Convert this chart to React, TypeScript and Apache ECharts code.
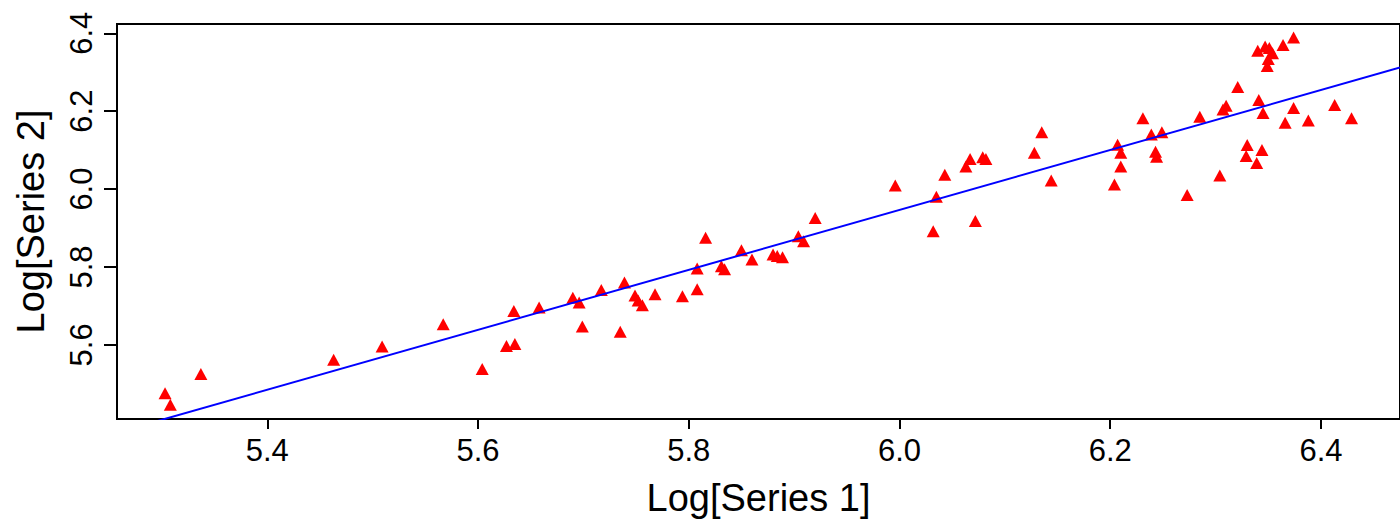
import React, { useEffect, useRef } from "react";
import * as echarts from "echarts";

// Log[Series 1] values (x)
const seriesX: number[] = [
  5.303, 5.308, 5.337, 5.463, 5.509, 5.567, 5.604, 5.627, 5.635, 5.634,
  5.658, 5.690, 5.696, 5.699, 5.717, 5.739, 5.735, 5.749, 5.752, 5.756,
  5.768, 5.794, 5.808, 5.808, 5.816, 5.831, 5.834, 5.850, 5.860, 5.880,
  5.884, 5.889, 5.904, 5.909, 5.920, 5.996, 6.032, 6.035, 6.043, 6.063,
  6.067, 6.072, 6.079, 6.082, 6.128, 6.135, 6.144, 6.204, 6.207, 6.210,
  6.210, 6.231, 6.239, 6.249, 6.243, 6.244, 6.273, 6.285, 6.304, 6.307,
  6.310, 6.321, 6.330, 6.329, 6.344, 6.339, 6.341, 6.345, 6.340, 6.347,
  6.351, 6.354, 6.350, 6.349, 6.364, 6.374, 6.366, 6.374, 6.388, 6.413,
  6.429,
];
// Log[Series 2] values (y)
const seriesY: number[] = [
  5.476, 5.446, 5.525, 5.562, 5.596, 5.653, 5.538, 5.597, 5.602, 5.687,
  5.696, 5.721, 5.709, 5.647, 5.741, 5.760, 5.634, 5.727, 5.714, 5.702,
  5.730, 5.725, 5.743, 5.796, 5.875, 5.802, 5.794, 5.843, 5.819, 5.832,
  5.828, 5.825, 5.879, 5.866, 5.926, 6.009, 5.892, 5.980, 6.037, 6.058,
  6.077, 5.918, 6.082, 6.077, 6.093, 6.146, 6.022, 6.012, 6.114, 6.093,
  6.058, 6.182, 6.140, 6.146, 6.096, 6.083, 5.985, 6.186, 6.035, 6.204,
  6.214, 6.262, 6.113, 6.085, 6.100, 6.067, 6.229, 6.195, 6.355, 6.366,
  6.362, 6.349, 6.334, 6.316, 6.370, 6.389, 6.170, 6.208, 6.176, 6.216,
  6.182,
];
// fitted line end points
const fitX: number[] = [5.2574, 6.475];
const fitY: number[] = [5.375, 6.312];

const xTicks: number[] = [5.4, 5.6, 5.8, 6.0, 6.2, 6.4];
const yTicks: number[] = [5.6, 5.8, 6.0, 6.2, 6.4];

const xRange: number[] = [5.2574, 6.475];
const yRange: number[] = [5.4097, 6.4238];

const FONT = "'Liberation Sans', Arial, sans-serif";

export default function App() {
  const ref = useRef<HTMLDivElement>(null);
  useEffect(() => {
    if (!ref.current) return;
    const chart = echarts.init(ref.current, undefined, { renderer: "svg" });
    const points = seriesX.map((x, i) => [x, seriesY[i]]);
    const fit = fitX.map((x, i) => [x, fitY[i]]);
    chart.setOption({
      animation: false,
      backgroundColor: "#ffffff",
      grid: {
        left: 117,
        top: 24,
        right: -12,
        bottom: 102,
        show: true,
        borderColor: "#000000",
        borderWidth: 2,
        backgroundColor: "transparent",
      },
      xAxis: {
        type: "value",
        min: xRange[0],
        max: xRange[1],
        name: "Log[Series 1]",
        nameLocation: "middle",
        nameGap: 60,
        nameTextStyle: { fontFamily: FONT, fontSize: 38, color: "#000" },
        axisLine: { show: true, onZero: false, lineStyle: { color: "#000", width: 2 } },
        axisTick: { show: true, length: 10, customValues: xTicks, lineStyle: { color: "#000", width: 2 } },
        axisLabel: {
          customValues: xTicks,
          margin: 16,
          fontFamily: FONT,
          fontSize: 31,
          color: "#000",
          formatter: (v: number) => v.toFixed(1),
        },
        splitLine: { show: false },
      },
      yAxis: {
        type: "value",
        min: yRange[0],
        max: yRange[1],
        name: "Log[Series 2]",
        nameLocation: "middle",
        nameGap: 67,
        nameRotate: 90,
        nameTextStyle: { fontFamily: FONT, fontSize: 38, color: "#000" },
        axisLine: { show: true, onZero: false, lineStyle: { color: "#000", width: 2 } },
        axisTick: { show: true, length: 13, customValues: yTicks, lineStyle: { color: "#000", width: 2 } },
        axisLabel: {
          customValues: yTicks,
          rotate: 90,
          margin: 20,
          fontFamily: FONT,
          fontSize: 31,
          color: "#000",
          formatter: (v: number) => v.toFixed(1),
        },
        splitLine: { show: false },
      },
      series: [
        {
          type: "scatter",
          data: points,
          symbol: "triangle",
          symbolSize: [13, 12],
          itemStyle: { color: "#ff0000", opacity: 1 },
          z: 2,
        },
        {
          type: "line",
          data: fit,
          showSymbol: false,
          symbol: "none",
          clip: true,
          lineStyle: { color: "#0000ff", width: 2 },
          z: 3,
        },
      ],
    });
    return () => chart.dispose();
  }, []);
  return (
    <div
      ref={ref}
      style={{ position: "fixed", left: 0, top: 0, width: 1400, height: 522 }}
    />
  );
}
